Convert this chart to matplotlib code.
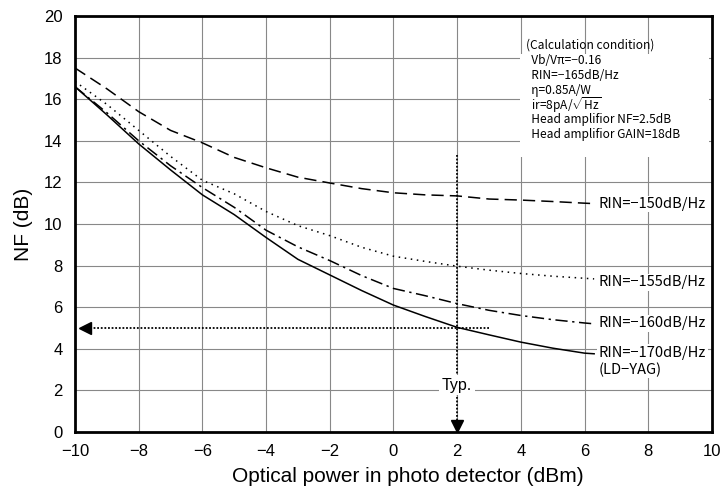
import numpy as np
import matplotlib
matplotlib.use('Agg')
import matplotlib.pyplot as plt
from matplotlib.patches import Rectangle

# Optical power (dBm) at which the curves were read
power = [-10, -9, -8, -7, -6, -5, -4, -3, -2, -1, 0, 1, 2, 3, 4, 5, 6, 6.3]

# NF (dB) for each RIN
nf_150 = [17.5, 16.5, 15.4, 14.5, 13.9, 13.2, 12.7, 12.25, 11.97, 11.7, 11.5,
          11.4, 11.35, 11.2, 11.15, 11.08, 11.0, 10.98]
nf_155 = [16.85, 15.75, 14.5, 13.25, 12.1, 11.45, 10.6, 9.92, 9.44, 8.88, 8.45,
          8.2, 7.97, 7.78, 7.62, 7.49, 7.39, 7.36]
nf_160 = [16.6, 15.35, 14.0, 12.8, 11.75, 10.8, 9.7, 8.9, 8.24, 7.52, 6.9,
          6.55, 6.17, 5.85, 5.6, 5.4, 5.24, 5.2]
nf_170 = [16.6, 15.25, 13.85, 12.6, 11.4, 10.45, 9.35, 8.3, 7.55, 6.8, 6.1,
          5.55, 5.03, 4.67, 4.32, 4.03, 3.79, 3.76]

series_labels = ['RIN=\u2212150dB/Hz', 'RIN=\u2212155dB/Hz',
                 'RIN=\u2212160dB/Hz', 'RIN=\u2212170dB/Hz\n(LD\u2212YAG)']
label_y = [10.96, 7.2, 5.23, 3.4]

condition_lines = ['(Calculation condition)',
                   '  Vb/V\u03c0=\u22120.16',
                   '  RIN=\u2212165dB/Hz',
                   '  \u03b7=0.85A/W',
                   r'  ir=8pA/$\sqrt{\mathrm{Hz}}$',
                   '  Head amplifior NF=2.5dB',
                   '  Head amplifior GAIN=18dB']

typ_power = 2
typ_nf = 5

plt.rcParams['font.family'] = ['Liberation Sans', 'Noto Sans CJK JP', 'DejaVu Sans']
plt.rcParams['mathtext.fontset'] = 'custom'
plt.rcParams['mathtext.rm'] = 'Noto Sans CJK JP'

fig = plt.figure(figsize=(7.24, 4.95), dpi=100)
ax = fig.add_axes([0.1036, 0.1273, 0.8798, 0.8404])

styles = [(0, (8, 4)), (0, (1, 3)), (0, (8, 3, 1.5, 3)), '-']
for nf, ls in zip([nf_150, nf_155, nf_160, nf_170], styles):
    ax.plot(power, nf, color='black', linestyle=ls, linewidth=1.1, zorder=3)

for txt, y in zip(series_labels, label_y):
    ax.text(6.45, y, txt, fontsize=10.5, va='center', ha='left',
            family=['Noto Sans CJK JP', 'DejaVu Sans'], linespacing=1.2,
            bbox=dict(facecolor='white', edgecolor='none', pad=1), zorder=5)

# calculation condition box
ax.add_patch(Rectangle((3.97, 13.2), 5.95, 4.95, facecolor='white',
                       edgecolor='none', zorder=4))
for i, line in enumerate(condition_lines):
    ax.text(4.15, 18.6 - i * 0.72, line, fontsize=8.6, va='center', ha='left',
            family=['Noto Sans CJK JP', 'DejaVu Sans'], zorder=5)

# typical operating point
ax.plot([typ_power, typ_power], [13.3, 0.3], color='black',
        linestyle=(0, (1, 1)), linewidth=1.3, zorder=3)
ax.plot([typ_power], [0.3], marker='v', color='black', markersize=8,
        clip_on=False, zorder=6)
ax.plot([3.0, -9.7], [typ_nf, typ_nf], color='black',
        linestyle=(0, (1, 1)), linewidth=1.3, zorder=3)
ax.plot([-9.7], [typ_nf], marker='<', color='black', markersize=8, zorder=6)
ax.text(typ_power, 2.25, 'Typ.', fontsize=11.5, ha='center', va='center',
        bbox=dict(facecolor='white', edgecolor='none', pad=2), zorder=5)

ax.set_xlim(-10, 10)
ax.set_ylim(0, 20)
ax.set_xticks(np.arange(-10, 11, 2))
ax.set_yticks(np.arange(0, 21, 2))
ax.set_xticklabels(['\u2212%d' % -v if v < 0 else '%d' % v for v in range(-10, 11, 2)])
ax.tick_params(length=0, labelsize=12, pad=9)
ax.grid(True, color='#888888', linewidth=0.8, zorder=1)
ax.set_axisbelow(True)
for sp in ax.spines.values():
    sp.set_linewidth(2)
    sp.set_zorder(7)

ax.set_xlabel('Optical power in photo detector (dBm)', fontsize=15)
ax.xaxis.set_label_coords(0.523, -0.085)
ax.set_ylabel('NF (dB)', fontsize=15, labelpad=8)

fig.savefig('out.png', dpi=100)
